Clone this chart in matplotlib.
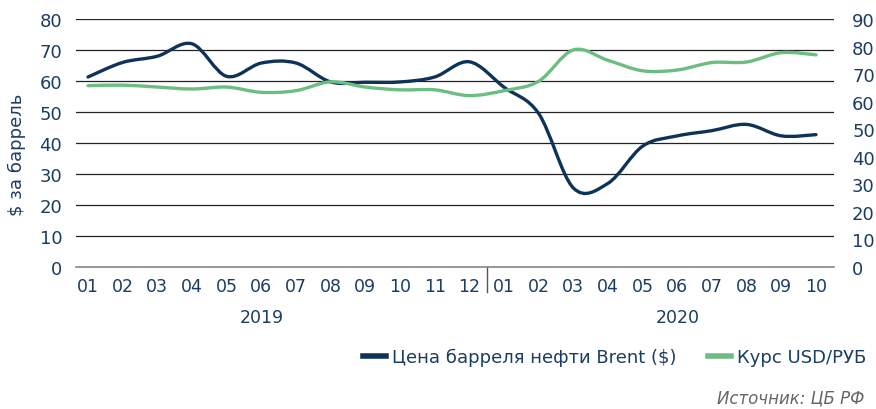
import numpy as np
import matplotlib.pyplot as plt
from matplotlib.path import Path
from matplotlib.patches import PathPatch
from matplotlib.lines import Line2D

plt.rcParams['font.family'] = ['DejaVu Sans']

# monthly data, Jan 2019 - Oct 2020
months = ['01', '02', '03', '04', '05', '06', '07', '08', '09', '10', '11', '12',
          '01', '02', '03', '04', '05', '06', '07', '08', '09', '10']
years = ['2019', '2020']
brent = [61.3, 66, 68, 72, 61.5, 65.8, 65.8, 59.7, 59.6, 59.7, 61.3, 66.2,
         58, 49.5, 25.5, 27, 39, 42.3, 44, 46, 42.3, 42.7]
usd_rub = [65.8, 66, 65.3, 64.6, 65.3, 63.4, 64, 67.2, 65.3, 64.3, 64.3, 62.2,
           64, 67.4, 78.8, 75, 71.2, 71.5, 74.2, 74.4, 77.8, 77]

navy = '#0e3358'
green = '#6cbd82'
txt = '#1b3d63'


def smooth_path(x, y):
    # bezier curve through the points, like "smoothed line" in spreadsheets
    pts = np.column_stack([x, y]).astype(float)
    padded = np.vstack([pts[0], pts, pts[-1]])
    verts = [pts[0]]
    codes = [Path.MOVETO]
    for i in range(len(pts) - 1):
        p0, p1, p2, p3 = padded[i], padded[i + 1], padded[i + 2], padded[i + 3]
        verts += [p1 + (p2 - p0) / 6, p2 - (p3 - p1) / 6, p2]
        codes += [Path.CURVE4] * 3
    return Path(verts, codes)


fig = plt.figure(figsize=(8.76, 4.10), dpi=100)
ax = fig.add_axes([0.0868, 0.3463, 0.9521 - 0.0868, 0.9512 - 0.3463])
ax2 = ax.twinx()

x = np.arange(len(months))
ax.add_patch(PathPatch(smooth_path(x, brent), fill=False, edgecolor=navy,
                       lw=2.4, capstyle='round', joinstyle='round', zorder=3))
ax2.add_patch(PathPatch(smooth_path(x, usd_rub), fill=False, edgecolor=green,
                        lw=2.4, capstyle='round', joinstyle='round', zorder=3))

ax.set_xlim(-0.346, 21.52)
ax.set_ylim(0, 80)
ax2.set_ylim(0, 90)
ax.set_yticks(np.arange(0, 81, 10))
ax2.set_yticks(np.arange(0, 91, 10))
ax.set_xticks(x)
ax.set_xticklabels(months)

ax.grid(axis='y', color='#222222', lw=0.9)
ax.set_axisbelow(True)
for a in (ax, ax2):
    for s in a.spines.values():
        s.set_visible(False)
ax.spines['bottom'].set_visible(True)
ax.spines['bottom'].set_color('#888888')
ax.spines['bottom'].set_linewidth(1.2)

ax.tick_params(axis='y', length=0, pad=10, labelsize=13, labelcolor=txt)
ax.tick_params(axis='x', length=0, pad=7, labelsize=12.5, labelcolor=txt)
ax2.tick_params(axis='y', length=0, pad=13, labelsize=13, labelcolor=txt)

ax.set_ylabel('$ за баррель', fontsize=13, color=txt)
ax.yaxis.set_label_coords(-0.066, 0.456)

# separator between years
ax.plot([11.5, 11.5], [0, -0.1], transform=ax.get_xaxis_transform(),
        color='#555555', lw=1, clip_on=False)
for xpos, yr in zip([5, 17], years):
    ax.text(xpos, -0.2, yr, transform=ax.get_xaxis_transform(), ha='center',
            va='center', fontsize=12.5, color=txt)

handles = [Line2D([], [], color=navy, lw=4),
           Line2D([], [], color=green, lw=4)]
fig.legend(handles, ['Цена барреля нефти Brent ($)', 'Курс USD/РУБ'],
           loc='center right', bbox_to_anchor=(1.0075, 1 - 358 / 410),
           ncol=2, frameon=False, fontsize=13, handlelength=1.28,
           handletextpad=0.33, columnspacing=1.75, labelcolor=txt)

fig.text(864 / 876, 1 - 398 / 410, 'Источник: ЦБ РФ', ha='right', va='center',
         fontsize=12, style='italic', color='#666666')

fig.savefig('out.png', dpi=100)
